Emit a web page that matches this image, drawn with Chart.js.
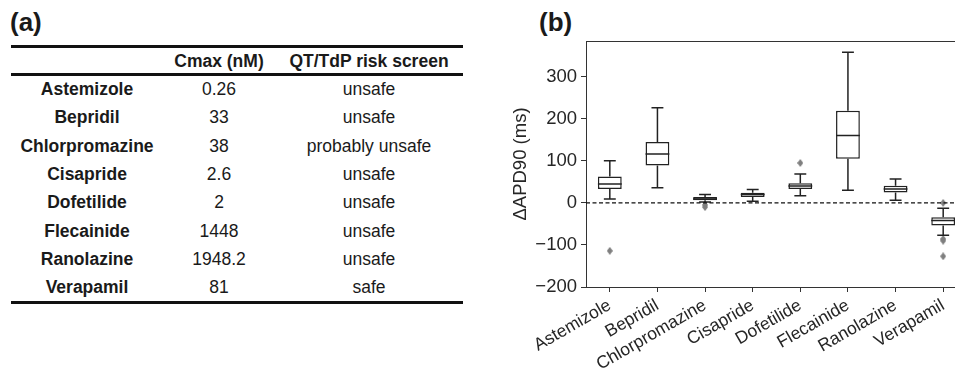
<!DOCTYPE html>
<html>
<head>
<meta charset="utf-8">
<script src="https://cdn.jsdelivr.net/npm/chart.js@4.4.0/dist/chart.umd.min.js"></script>
<style>
  html, body { margin: 0; padding: 0; width: 955px; height: 373px; overflow: hidden; background: #fff; }
  body { position: relative; font-family: "Liberation Sans", Arial, sans-serif; color: #1a1a1a; }
  .panel-label { position: absolute; font-weight: bold; font-size: 26px; line-height: 1; }
  .rule { position: absolute; left: 11px; width: 452px; height: 3.4px; background: #111; }
  .cell { position: absolute; height: 28px; line-height: 28px; text-align: center; white-space: nowrap; font-size: 17.5px; }
  .c0 { left: 11px; width: 152px; font-weight: bold; }
  .c1 { left: 163px; width: 112px; }
  .c2 { left: 275px; width: 188px; }
  .head { font-weight: bold; }
  #chartBox { position: absolute; left: 480px; top: 0; width: 500px; height: 373px; }
</style>
</head>
<body>
<div class="panel-label" style="left:10px; top:9px;">(a)</div>
<div class="panel-label" style="left:539px; top:9px;">(b)</div>

<div id="tbl"></div>

<div id="chartBox"><canvas id="boxChart"></canvas></div>

<script>
// 薬剤名（表とグラフの両方で使う）
const drugs = ['Astemizole', 'Bepridil', 'Chlorpromazine', 'Cisapride', 'Dofetilide', 'Flecainide', 'Ranolazine', 'Verapamil'];
const cmax = ['0.26', '33', '38', '2.6', '2', '1448', '1948.2', '81'];
const riskScreen = ['unsafe', 'unsafe', 'probably unsafe', 'unsafe', 'unsafe', 'unsafe', 'unsafe', 'safe'];
const tableHeader = ['', 'Cmax (nM)', 'QT/TdP risk screen'];

// 箱ひげ図の値 (ms)
const whiskerLow = [9, 36, 2, 4, 17, 30, 6, -77];
const q1 = [33, 89, 6, 14, 33, 105, 25, -54];
const median = [45, 116, 9, 20, 40, 160, 33, -42];
const q3 = [63, 145, 14, 24, 47, 219, 41, -34];
const whiskerHigh = [100, 226, 20, 32, 69, 358, 57, -13];
const outliers = [[-114], [], [-5, -10], [], [95], [], [], [0, -86, -90, -127]];

// 軸の目盛り
const yTicks = [-200, -100, 0, 100, 200, 300];
const yMin = -200;
const yMax = 385;

// 表を作る（罫線と各セル）
const tbl = document.getElementById('tbl');
function addDiv(cls, top, text) {
    const el = document.createElement('div');
    el.className = cls;
    el.style.top = top + 'px';
    if (text !== undefined) el.textContent = text;
    tbl.appendChild(el);
}
addDiv('rule', 44.5);
addDiv('rule', 72.5);
addDiv('rule', 300.5);
tableHeader.forEach((h, c) => addDiv('cell head c' + c, 61 - 14, h));
drugs.forEach((d, i) => {
    const top = 89 + i * 28.3 - 14;
    addDiv('cell c0', top, d);
    addDiv('cell c1', top, cmax[i]);
    addDiv('cell c2', top, riskScreen[i]);
});

const lineColor = '#222';

// 外れ値のマーカー（細いひし形）
const diamond = document.createElement('canvas');
diamond.width = 6; diamond.height = 8;
(() => {
    const c = diamond.getContext('2d');
    c.fillStyle = '#7f7f7f';
    c.beginPath();
    c.moveTo(3, 0); c.lineTo(6, 4); c.lineTo(3, 8); c.lineTo(0, 4);
    c.closePath();
    c.fill();
})();

// ひげ・中央値・0の破線・枠線を描くプラグイン
const boxPartsPlugin = {
    id: 'boxParts',
    afterDatasetsDraw(chart) {
        const { ctx, chartArea, scales: { x, y } } = chart;
        const meta = chart.getDatasetMeta(0);
        ctx.save();
        ctx.strokeStyle = lineColor;
        ctx.lineWidth = 1.5;
        drugs.forEach((d, i) => {
            const cx = x.getPixelForValue(i);
            const half = meta.data[i].width / 2;
            const cap = half / 2;
            const yLo = y.getPixelForValue(whiskerLow[i]);
            const yQ1 = y.getPixelForValue(q1[i]);
            const yQ3 = y.getPixelForValue(q3[i]);
            const yHi = y.getPixelForValue(whiskerHigh[i]);
            const yMed = y.getPixelForValue(median[i]);
            ctx.beginPath();
            // 下のひげ
            ctx.moveTo(cx, yQ1); ctx.lineTo(cx, yLo);
            ctx.moveTo(cx - cap, yLo); ctx.lineTo(cx + cap, yLo);
            // 上のひげ
            ctx.moveTo(cx, yQ3); ctx.lineTo(cx, yHi);
            ctx.moveTo(cx - cap, yHi); ctx.lineTo(cx + cap, yHi);
            // 中央値
            ctx.moveTo(cx - half, yMed); ctx.lineTo(cx + half, yMed);
            ctx.stroke();
        });

        // 0 の破線
        const y0 = y.getPixelForValue(0);
        ctx.setLineDash([4, 2.5]);
        ctx.lineWidth = 1.3;
        ctx.strokeStyle = '#111';
        ctx.beginPath();
        ctx.moveTo(chartArea.left, y0);
        ctx.lineTo(chartArea.right, y0);
        ctx.stroke();

        // 上と右の枠線
        ctx.setLineDash([]);
        ctx.lineWidth = 1;
        ctx.strokeStyle = '#333';
        ctx.beginPath();
        ctx.moveTo(chartArea.left, chartArea.top + 0.5);
        ctx.lineTo(chartArea.right, chartArea.top + 0.5);
        ctx.lineTo(chartArea.right, chartArea.bottom);
        ctx.stroke();
        ctx.restore();
    }
};

const outlierPoints = [];
outliers.forEach((list, i) => list.forEach(v => outlierPoints.push({ x: drugs[i], y: v })));

const fontFamily = '"Liberation Sans", Arial, sans-serif';

new Chart(document.getElementById('boxChart'), {
    type: 'bar',
    data: {
        labels: drugs,
        datasets: [
            {
                label: 'box',
                data: drugs.map((d, i) => [q1[i], q3[i]]),
                backgroundColor: '#ffffff',
                borderColor: lineColor,
                borderWidth: 1.5,
                borderSkipped: false,
                barPercentage: 0.5,
                categoryPercentage: 1.0
            },
            {
                type: 'line',
                label: 'outliers',
                data: outlierPoints,
                showLine: false,
                pointStyle: diamond,
                pointRadius: 4
            }
        ]
    },
    options: {
        responsive: true,
        maintainAspectRatio: false,
        animation: false,
        layout: { padding: { top: 41, right: 13, bottom: 0, left: 0 } },
        plugins: { legend: { display: false }, tooltip: { enabled: false } },
        scales: {
            x: {
                type: 'category',
                offset: true,
                grid: { display: true, drawOnChartArea: false, drawTicks: true, tickLength: 5, color: '#333', offset: false },
                border: { display: true, color: '#333', width: 1 },
                ticks: {
                    autoSkip: false,
                    minRotation: 30,
                    maxRotation: 30,
                    padding: 3,
                    color: '#262626',
                    font: { family: fontFamily, size: 17.5 }
                },
                afterFit: (scale) => { scale.height = 86; }
            },
            y: {
                min: yMin,
                max: yMax,
                grid: { display: true, drawOnChartArea: false, drawTicks: true, tickLength: 5, color: '#333' },
                border: { display: true, color: '#333', width: 1 },
                ticks: {
                    stepSize: 100,
                    padding: 4,
                    color: '#262626',
                    font: { family: fontFamily, size: 18.5 },
                    callback: v => v < 0 ? '\u2212' + Math.abs(v) : String(v)
                },
                afterBuildTicks: (scale) => {
                    scale.ticks = yTicks.map(v => ({ value: v }));
                },
                title: {
                    display: true,
                    text: '\u0394APD90 (ms)',
                    color: '#262626',
                    font: { family: fontFamily, size: 18.5 },
                    padding: { top: 30, bottom: 0 }
                },
                afterFit: (scale) => { scale.width = 106; }
            }
        }
    },
    plugins: [boxPartsPlugin]
});
</script>
</body>
</html>
